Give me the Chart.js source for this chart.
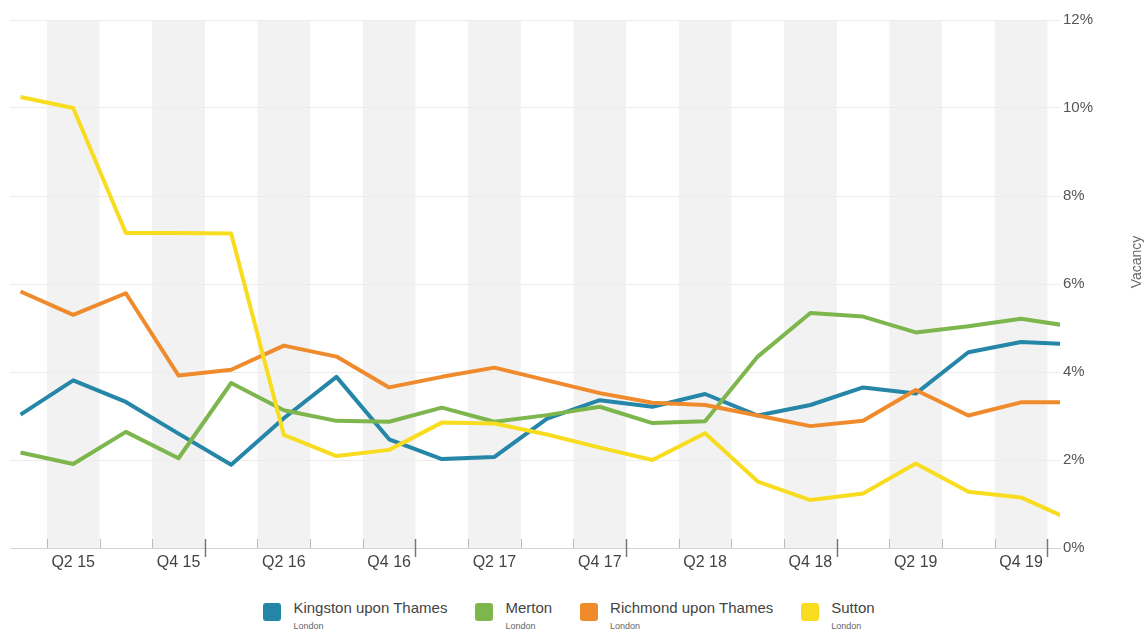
<!DOCTYPE html>
<html>
<head>
<meta charset="utf-8">
<script src="https://cdn.jsdelivr.net/npm/chart.js@4.4.1/dist/chart.umd.min.js"></script>
<style>
  body { margin: 0; background: #fff; font-family: "Liberation Sans", Arial, sans-serif; }
  #wrap { position: relative; width: 1146px; height: 630px; overflow: hidden; }
  #box { position: absolute; left: 0; top: 0; width: 1146px; height: 580px; }
  #legend { position: absolute; left: 0; top: 603px; width: 1138px; display: flex; justify-content: center; }
  .item { display: flex; margin-right: 28px; }
  .item:last-child { margin-right: 0; }
  .sw { width: 18px; height: 18px; border-radius: 3px; margin-right: 12px; }
  .name { font-size: 15px; color: #444; line-height: 15px; margin-top: -3px; }
  .sub { font-size: 9px; color: #666; line-height: 11px; margin-top: 6px; }
</style>
</head>
<body>
<div id="wrap">
  <div id="box"><canvas id="chart"></canvas></div>
  <div id="legend"></div>
</div>
<script>
// quarters Q1 15 .. Q1 20
const quarters = ["Q1 15", "Q2 15", "Q3 15", "Q4 15", "Q1 16", "Q2 16", "Q3 16", "Q4 16",
  "Q1 17", "Q2 17", "Q3 17", "Q4 17", "Q1 18", "Q2 18", "Q3 18", "Q4 18",
  "Q1 19", "Q2 19", "Q3 19", "Q4 19", "Q1 20"];

const areas = ["Kingston upon Thames", "Merton", "Richmond upon Thames", "Sutton"];
const region = "London";
const colors = ["#2586a8", "#7cb64d", "#ef8b2c", "#f7dc20"];

// vacancy rate, %
const kingston = [3.03, 3.81, 3.32, 2.60, 1.89, 2.95, 3.89, 2.47, 2.02, 2.07, 2.94, 3.36, 3.21, 3.50, 3.01, 3.25, 3.65, 3.51, 4.45, 4.68, 4.63];
const merton   = [2.17, 1.91, 2.64, 2.04, 3.75, 3.13, 2.89, 2.87, 3.19, 2.87, 3.02, 3.21, 2.84, 2.88, 4.35, 5.34, 5.26, 4.90, 5.04, 5.21, 5.03];
const richmond = [5.83, 5.30, 5.79, 3.92, 4.05, 4.60, 4.35, 3.65, 3.89, 4.10, 3.81, 3.52, 3.30, 3.25, 3.01, 2.77, 2.89, 3.59, 3.01, 3.31, 3.31];
const sutton   = [10.25, 10.0, 7.16, 7.16, 7.15, 2.57, 2.09, 2.23, 2.85, 2.83, 2.58, 2.28, 2.0, 2.61, 1.51, 1.09, 1.24, 1.92, 1.28, 1.15, 0.61];

const yTicks = [0, 2, 4, 6, 8, 10, 12];
const series = [kingston, merton, richmond, sutton];

const FONT = "'Liberation Sans', Arial, sans-serif";

// alternate grey columns behind every second quarter
const bands = {
  id: "bands",
  beforeDraw(chart) {
    const { ctx, chartArea: a, scales: { x } } = chart;
    ctx.save();
    ctx.beginPath();
    ctx.rect(a.left, a.top, a.right - a.left, a.bottom - a.top);
    ctx.clip();
    ctx.fillStyle = "#f2f2f2";
    for (let i = 1; i < quarters.length; i += 2) {
      const l = x.getPixelForValue(i - 0.5);
      const r = x.getPixelForValue(i + 0.5);
      ctx.fillRect(l, a.top, r - l, a.bottom - a.top);
    }
    ctx.restore();
  }
};

// quarter ticks on the axis line, longer at year ends
const quarterTicks = {
  id: "quarterTicks",
  afterDatasetsDraw(chart) {
    const { ctx, chartArea: a, scales: { x } } = chart;
    ctx.save();
    for (let i = 0; i < quarters.length - 1; i++) {
      const px = Math.round(x.getPixelForValue(i + 0.5)) + 0.5;
      if (px < a.left || px > a.right + 1) continue;
      const yearEnd = quarters[i].startsWith("Q4");
      ctx.strokeStyle = yearEnd ? "#777" : "#bbb";
      ctx.lineWidth = yearEnd ? 1.5 : 1;
      ctx.beginPath();
      ctx.moveTo(px, a.bottom - 9);
      ctx.lineTo(px, a.bottom + (yearEnd ? 9 : 0));
      ctx.stroke();
    }
    ctx.restore();
  }
};

const axisTitle = {
  id: "axisTitle",
  afterDraw(chart) {
    const { ctx } = chart;
    ctx.save();
    ctx.translate(1137, 262);
    ctx.rotate(-Math.PI / 2);
    ctx.font = "14px " + FONT;
    ctx.fillStyle = "#666";
    ctx.textAlign = "center";
    ctx.textBaseline = "middle";
    ctx.fillText("Vacancy", 0, 0);
    ctx.restore();
  }
};

const datasets = areas.map((name, k) => ({
  label: name,
  data: series[k].map((v, i) => ({ x: i, y: v })),
  borderColor: colors[k],
  backgroundColor: colors[k],
  borderWidth: 4,
  borderJoinStyle: "round",
  pointRadius: 0,
  tension: 0,
  order: areas.length - k
}));

new Chart(document.getElementById("chart"), {
  type: "line",
  data: { datasets },
  options: {
    responsive: true,
    maintainAspectRatio: false,
    animation: false,
    layout: { padding: { left: 10, top: 20, right: 0, bottom: 0 } },
    plugins: { legend: { display: false }, tooltip: { enabled: false } },
    scales: {
      x: {
        type: "linear",
        min: -0.2,
        max: 19.74,
        grid: { display: false },
        border: { display: true, color: "#d4d4d4" },
        afterBuildTicks(scale) {
          scale.ticks = [];
          for (let i = 1; i < quarters.length; i += 2) scale.ticks.push({ value: i });
        },
        afterFit(scale) { scale.height = 32; },
        ticks: {
          autoSkip: false,
          maxRotation: 0,
          padding: -3,
          color: "#444",
          font: { family: FONT, size: 16 },
          callback: v => quarters[v]
        }
      },
      y: {
        position: "right",
        min: 0,
        max: 12,
        afterBuildTicks(scale) { scale.ticks = yTicks.map(v => ({ value: v })); },
        afterFit(scale) { scale.width = 86; },
        grid: { color: "#ececec", drawTicks: false },
        border: { display: false },
        ticks: {
          padding: 3,
          color: "#555",
          font: { family: FONT, size: 15 },
          callback: v => v + "%"
        }
      }
    }
  },
  plugins: [bands, quarterTicks, axisTitle]
});

// two-line legend: area name with its region beneath
const legend = document.getElementById("legend");
areas.forEach((name, k) => {
  const item = document.createElement("div");
  item.className = "item";
  item.innerHTML = '<div class="sw" style="background:' + colors[k] + '"></div>' +
    '<div><div class="name">' + name + '</div><div class="sub">' + region + '</div></div>';
  legend.appendChild(item);
});
</script>
</body>
</html>
